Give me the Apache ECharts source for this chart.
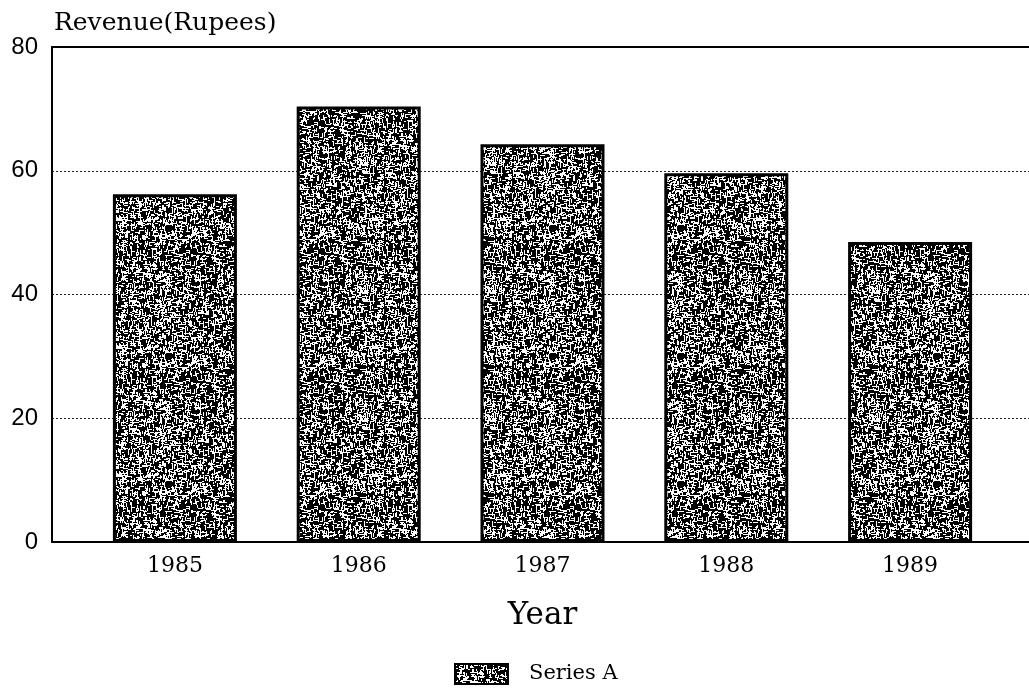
<!DOCTYPE html>
<html>
<head>
<meta charset="utf-8">
<script src="https://cdn.jsdelivr.net/npm/echarts@6/dist/echarts.min.js"></script>
<style>
  html, body { margin: 0; padding: 0; background: #fff; }
  #chart { width: 1029px; height: 690px; }
</style>
</head>
<body>
<div id="chart"></div>
<script>
// chart data
const years = ["1985", "1986", "1987", "1988", "1989"]
const seriesA = [56.2, 70.4, 64.3, 59.6, 48.5]
const yTicks = [0, 20, 40, 60, 80]

// speckled fill, like the old printer texture (fixed seed, only for looks)
const makeTexture = () => {
  const size = 128
  const cv = document.createElement("canvas")
  cv.width = size
  cv.height = size
  const ctx = cv.getContext("2d")
  ctx.fillStyle = "#000"
  ctx.fillRect(0, 0, size, size)
  ctx.fillStyle = "#fff"
  let s = 987654321
  const next = () => {
    s = (s + 0x6d2b79f5) | 0
    let t = Math.imul(s ^ (s >>> 15), 1 | s)
    t = (t + Math.imul(t ^ (t >>> 7), 61 | t)) ^ t
    return ((t ^ (t >>> 14)) >>> 0) / 4294967296
  }
  for (let y = 0; y < size; y++) {
    for (let x = 0; x < size; x++) {
      if (next() < 0.16) {
        const len = 2 + Math.floor(next() * 3)
        if (next() < 0.5) ctx.fillRect(x, y, len, 1)
        else ctx.fillRect(x, y, 1, len)
      }
    }
  }
  return cv
}

const texture = { image: makeTexture(), repeat: "repeat" }

const myChart = echarts.init(document.getElementById("chart"))

const yBase = {
  type: "value",
  min: yTicks[0],
  max: yTicks[yTicks.length - 1],
  interval: 20,
}

const option = {
  animation: false,
  title: {
    text: "Revenue(Rupees)",
    left: 49,
    top: 6,
    textStyle: {
      fontFamily: "DejaVu Serif",
      fontWeight: "normal",
      fontSize: 25,
      color: "#000",
    },
  },
  legend: {
    left: 449,
    top: 658,
    itemWidth: 53,
    itemHeight: 20,
    icon: "rect",
    data: ["Series A"],
    textStyle: {
      fontFamily: "DejaVu Serif",
      fontSize: 21,
      color: "#000",
      padding: [0, 0, 0, 16],
    },
  },
  grid: [
    { left: 52, right: 0, top: 47, bottom: 148 },
    { left: 83, right: 27, top: 47, bottom: 148 },
  ],
  xAxis: [
    {
      gridIndex: 0,
      type: "value",
      min: 0,
      max: 1,
      axisLine: { show: true, onZero: false, lineStyle: { color: "#000", width: 2 } },
      axisTick: { show: false },
      axisLabel: { show: false },
      splitLine: { show: false },
    },
    {
      gridIndex: 0,
      type: "value",
      position: "top",
      min: 0,
      max: 1,
      axisLine: { show: true, onZero: false, lineStyle: { color: "#000", width: 2 } },
      axisTick: { show: false },
      axisLabel: { show: false },
      splitLine: { show: false },
    },
    {
      gridIndex: 1,
      type: "category",
      data: years,
      name: "Year",
      nameLocation: "middle",
      nameGap: 58,
      nameTextStyle: {
        fontFamily: "DejaVu Serif",
        fontSize: 31,
        color: "#000",
      },
      axisLine: { show: false },
      axisTick: { show: false },
      axisLabel: {
        margin: 13,
        fontFamily: "DejaVu Serif",
        fontSize: 22,
        color: "#000",
      },
    },
  ],
  yAxis: [
    {
      ...yBase,
      gridIndex: 0,
      axisLine: { show: true, lineStyle: { color: "#000", width: 2 } },
      axisTick: { show: false },
      axisLabel: {
        margin: 14,
        fontFamily: "Liberation Sans",
        fontSize: 24,
        color: "#000",
      },
      splitLine: {
        show: true,
        lineStyle: { color: "#222", width: 1, type: [2, 2] },
      },
    },
    {
      ...yBase,
      gridIndex: 1,
      axisLine: { show: false },
      axisTick: { show: false },
      axisLabel: { show: false },
      splitLine: { show: false },
    },
  ],
  series: [
    {
      name: "Series A",
      type: "bar",
      xAxisIndex: 2,
      yAxisIndex: 1,
      data: seriesA,
      barWidth: 124,
      itemStyle: {
        color: texture,
        borderColor: "#000",
        borderWidth: 3,
      },
    },
  ],
}

myChart.setOption(option)
</script>
</body>
</html>
